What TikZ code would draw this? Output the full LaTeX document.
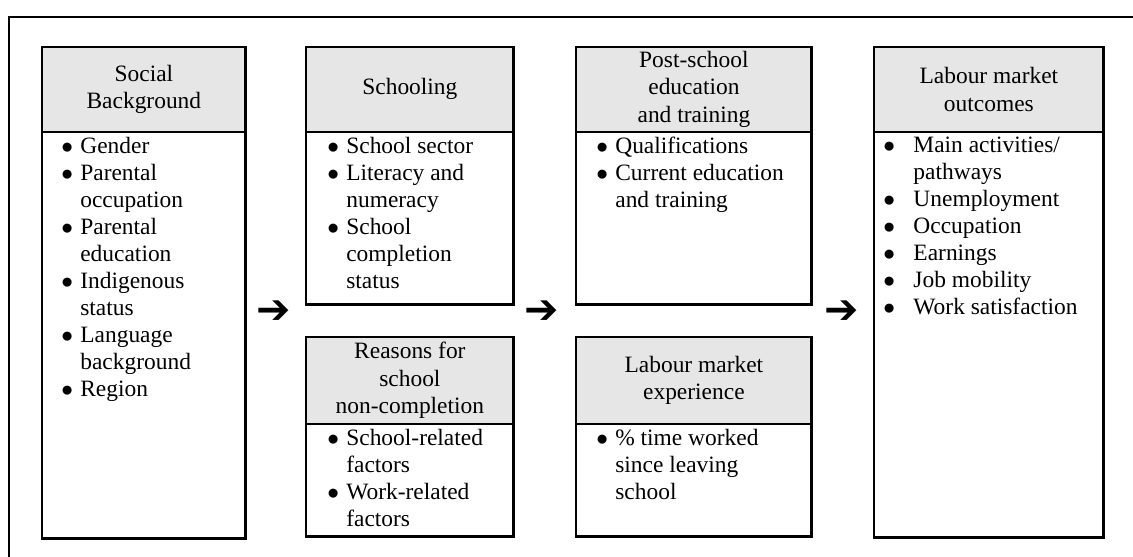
\documentclass[tikz,border=0pt]{standalone}
\usepackage{fontspec}
\setmainfont{Liberation Serif}
\newfontfamily\arrowfont{DejaVu Sans}
\usetikzlibrary{positioning}
\definecolor{hdrgray}{HTML}{E6E6E6}
\newcommand{\blt}{\makebox[9.7pt][l]{$\bullet$}}
\newcommand{\ind}{\hspace*{9.7pt}}
\newcommand{\bltw}{\makebox[15.4pt][l]{$\bullet$}}
\newcommand{\indw}{\hspace*{15.4pt}}

\tikzset{
  hdr/.style={fill=hdrgray, align=center, inner sep=0pt, anchor=north west,
    font=\fontsize{12}{14.1}\selectfont},
  body/.style={inner sep=0pt, anchor=north},
  items/.style={anchor=north west, inner sep=0pt, align=left,
    font=\fontsize{12}{13.8}\selectfont},
  boxsize/.style 2 args={minimum width=#1*0.512pt, minimum height=#2*0.512pt},
  boxline/.style={line width=1.5pt},
  sepline/.style={line width=0.75pt},
  arrowglyph/.style={inner sep=0pt, font=\arrowfont\fontsize{21}{21}\selectfont}
}

\begin{document}
\begin{tikzpicture}[x=0.512pt,y=-0.512pt]
  \useasboundingbox (0,0) rectangle (1133,557);

  % outer frame (cut off at right and bottom)
  \draw[boxline] (1145,17) -- (9,17) -- (9,570);

  % social background
  \node[hdr, boxsize={203}{84}] (bgHd) at (42,47) {Social\\Background};
  \node[body, boxsize={203}{406}, below=0pt of bgHd] (bgBd) {};
  \node[items] (bgIt) at (61,137) {\blt Gender\\ \blt Parental\\ \ind occupation\\
    \blt Parental\\ \ind education\\ \blt Indigenous\\ \ind status\\
    \blt Language\\ \ind background\\ \blt Region};

  % schooling
  \node[hdr, boxsize={207}{84}] (scHd) at (306,47) {Schooling};
  \node[body, boxsize={207}{172}, below=0pt of scHd] (scBd) {};
  \node[items] (scIt) at (327,137) {\blt School sector\\ \blt Literacy and\\ \ind numeracy\\
    \blt School\\ \ind completion\\ \ind status};

  % reasons for non-completion
  \node[hdr, boxsize={207}{86}] (rsHd) at (306,337) {Reasons for\\school\\non-completion};
  \node[body, boxsize={207}{112}, below=0pt of rsHd] (rsBd) {};
  \node[items] (rsIt) at (327,429) {\blt School-related\\ \ind factors\\
    \blt Work-related\\ \ind factors};

  % post-school education
  \node[hdr, boxsize={235}{84}] (psHd) at (576,47) {Post-school\\education\\and training};
  \node[body, boxsize={235}{172}, below=0pt of psHd] (psBd) {};
  \node[items] (psIt) at (596,137) {\blt Qualifications\\ \blt Current education\\ \ind and training};

  % labour market experience
  \node[hdr, boxsize={235}{86}] (lxHd) at (576,337) {Labour market\\experience};
  \node[body, boxsize={235}{112}, below=0pt of lxHd] (lxBd) {};
  \node[items] (lxIt) at (596,429) {\blt \% time worked\\ \ind since leaving\\ \ind school};

  % labour market outcomes
  \node[hdr, boxsize={229}{84}] (loHd) at (874,47) {Labour market\\outcomes};
  \node[body, boxsize={229}{405}, below=0pt of loHd] (loBd) {};
  \node[items] (loIt) at (883,137) {\bltw Main activities/\\ \indw pathways\\ \bltw Unemployment\\
    \bltw Occupation\\ \bltw Earnings\\ \bltw Job mobility\\ \bltw Work satisfaction};

  % outlines and header rules
  \foreach \b in {bg,sc,rs,ps,lx,lo} {
    \draw[boxline] (\b Hd.north west) rectangle (\b Bd.south east);
    \draw[sepline] (\b Hd.south west) -- (\b Hd.south east);
  }

  % arrows
  \foreach \n/\x in {1/274,2/542,3/842}
    \node[arrowglyph] (arr\n) at (\x,312) {➔};

\end{tikzpicture}
\end{document}
